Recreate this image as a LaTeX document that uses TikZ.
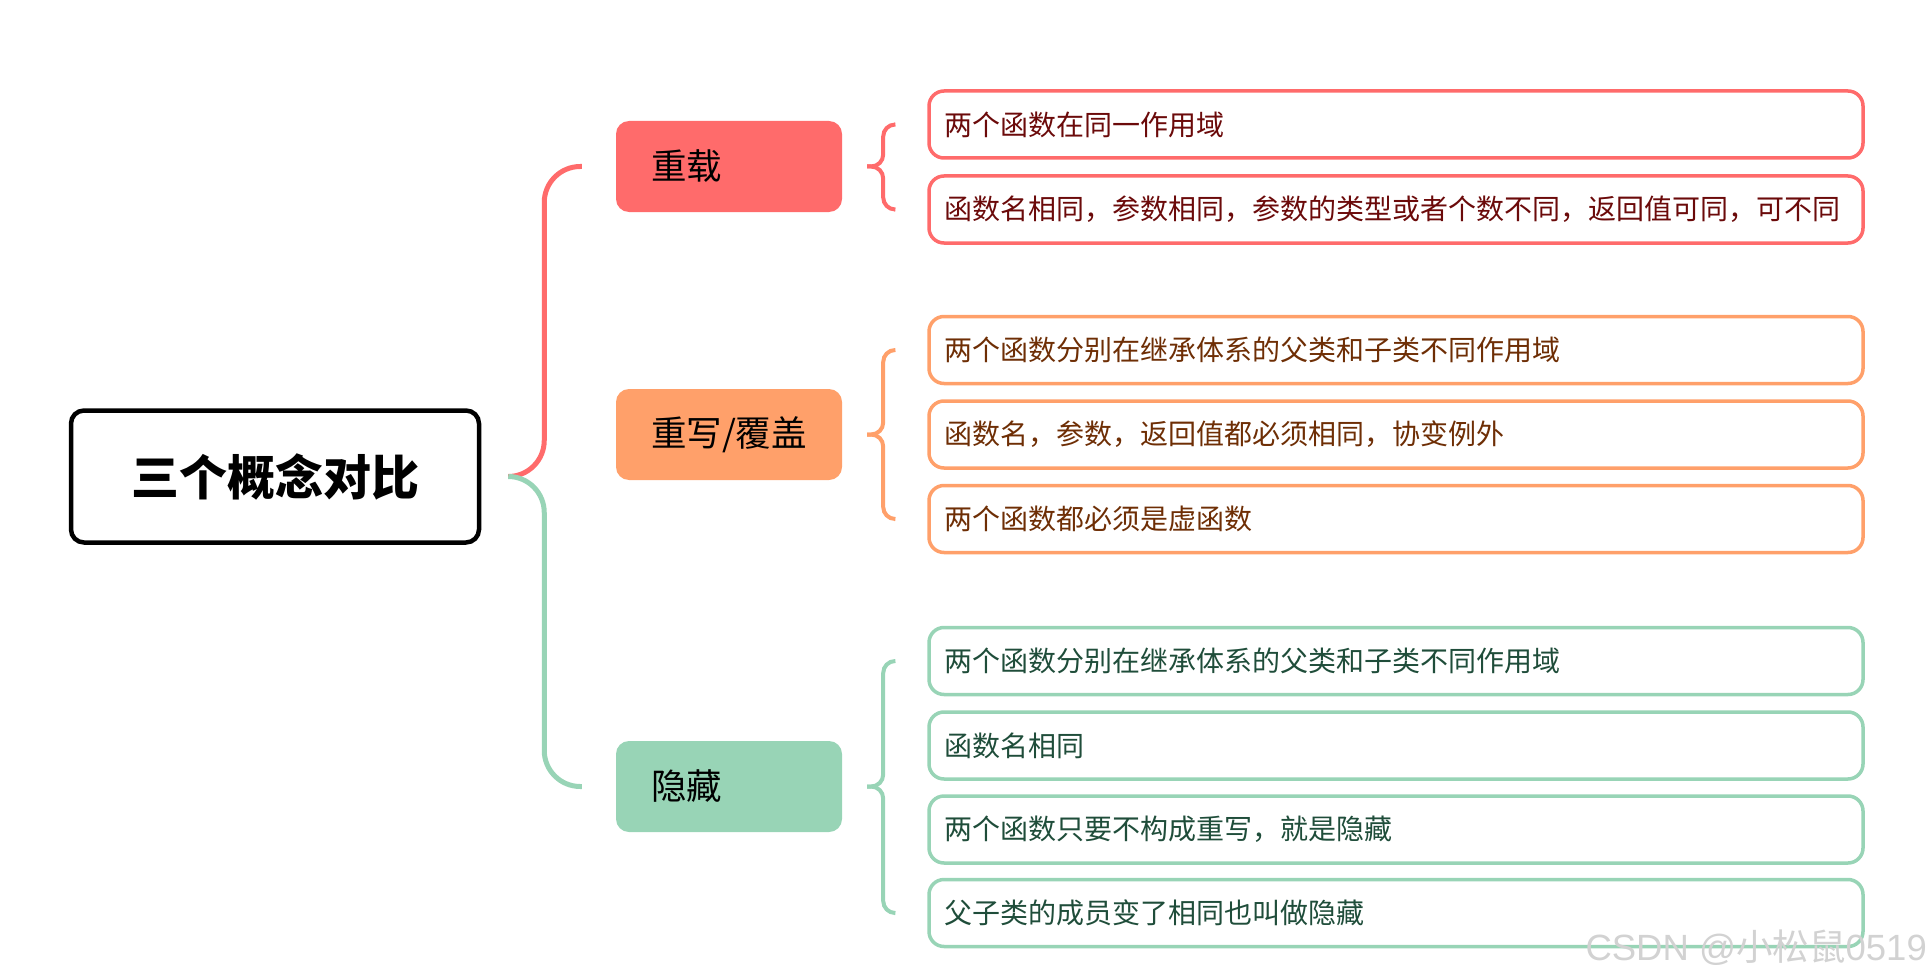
\documentclass[tikz,border=0pt]{standalone}
\usepackage{fontspec}
\newfontfamily\cjk{Noto Sans CJK SC}
\newfontfamily\wmfont{Liberation Sans}
\definecolor{cred}{HTML}{FF6B6B}
\definecolor{corange}{HTML}{FFA06A}
\definecolor{cgreen}{HTML}{98D4B6}
\definecolor{tred}{HTML}{6B0A0A}
\definecolor{torange}{HTML}{6E2E05}
\definecolor{tgreen}{HTML}{1F4D3A}
\begin{document}
\begin{tikzpicture}[x=1pt,y=-1pt,
  rootbox/.style={draw=black, line width=4.5pt, rounded corners=13pt, fill=white,
    minimum width=408pt, minimum height=132pt,
    font=\cjk\bfseries\fontsize{48}{48}\selectfont},
  branch/.style={fill=#1, rounded corners=13pt, minimum width=226pt, minimum height=91pt,
    text width=156pt, inner xsep=35pt, align=left,
    font=\cjk\fontsize{35.5}{35.5}\selectfont},
  leaf/.style={draw=#1, fill=white, line width=3.5pt, rounded corners=15pt,
    minimum width=934pt, minimum height=67pt, text width=904pt, inner xsep=15pt,
    align=left, font=\cjk\fontsize{28}{28}\selectfont},
  leafR/.style={leaf=cred, text=tred},
  leafO/.style={leaf=corange, text=torange},
  leafG/.style={leaf=cgreen, text=tgreen},
  conn/.style={draw=#1, line width=5pt, rounded corners=36pt},
  bracepath/.style={draw=#1, line width=4pt, rounded corners=12pt},
]
\useasboundingbox (0,0) rectangle (1931,979);

% root
\node[rootbox] (root) at (275,476.5) {三个概念对比};

% branches
\node[branch=cred] (b1) at (729,166.5) {重载};
\node[branch=corange] (b2) at (729,434.5) {重写/覆盖};
\node[branch=cgreen] (b3) at (729,786.5) {隐藏};

% leaves
\node[leafR] (l11) at (1396,124.5) {两个函数在同一作用域};
\node[leafR] (l12) at (1396,209.5) {函数名相同，参数相同，参数的类型或者个数不同，返回值可同，可不同};

\node[leafO] (l21) at (1396,350) {两个函数分别在继承体系的父类和子类不同作用域};
\node[leafO] (l22) at (1396,434.5) {函数名，参数，返回值都必须相同，协变例外};
\node[leafO] (l23) at (1396,519) {两个函数都必须是虚函数};

\node[leafG] (l31) at (1396,661) {两个函数分别在继承体系的父类和子类不同作用域};
\node[leafG] (l32) at (1396,745.5) {函数名相同};
\node[leafG] (l33) at (1396,829.5) {两个函数只要不构成重写，就是隐藏};
\node[leafG] (l34) at (1396,913) {父子类的成员变了相同也叫做隐藏};

% root connectors
\coordinate (j) at ([xshift=27pt]root.east);
\coordinate (vr) at ([xshift=36pt]j);
\coordinate (e1) at ([xshift=-34pt]b1.west);
\coordinate (e3) at ([xshift=-34pt]b3.west);
\path[conn=cred] (j) -- (j -| vr) -- (e1 -| vr) -- (e1);
\path[conn=cgreen] (j) -- (j -| vr) -- (e3 -| vr) -- (e3);

% braces
\foreach \b/\top/\bot/\col in {b1/l11/l12/cred, b2/l21/l23/corange, b3/l31/l34/cgreen}{
  \coordinate (tip) at ([xshift=25pt]\b.east);
  \coordinate (vv) at ([xshift=16pt]tip);
  \coordinate (ut) at ([xshift=-33pt]\top.west);
  \coordinate (ub) at ([xshift=-33pt]\bot.west);
  \path[bracepath=\col] (ut) -- (ut -| vv) -- (tip -| vv) -- (tip);
  \path[bracepath=\col] (ub) -- (ub -| vv) -- (tip -| vv) -- (tip);
}

% watermark
\node[text=gray!35, anchor=east, inner sep=0pt] (wm) at (1927,948)
  {\fontsize{36.5}{36.5}\selectfont\wmfont CSDN @{\cjk 小松鼠}0519};
\end{tikzpicture}
\end{document}
